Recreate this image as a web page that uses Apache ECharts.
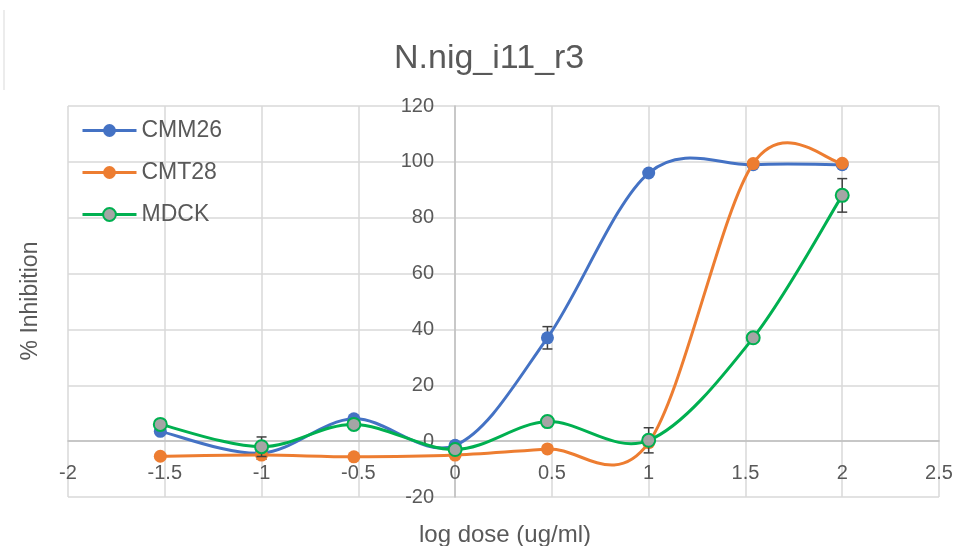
<!DOCTYPE html>
<html><head><meta charset="utf-8">
<script src="https://cdn.jsdelivr.net/npm/echarts@6/dist/echarts.min.js"></script>
<style>html,body{margin:0;padding:0;background:#fff}#c{width:956px;height:546px}</style>
</head><body><div id="c"></div>
<script>
const chartTitle = 'N.nig_i11_r3';
const xName = 'log dose (ug/ml)';
const yName = '% Inhibition';
const seriesNames = ['CMM26', 'CMT28', 'MDCK'];
const logDose = [-1.523, -1, -0.523, 0, 0.477, 1, 1.54, 2];
const cmm26 = [3.5, -4.3, 8, -1.5, 37, 96, 99, 99];
const cmm26Err = [0, 0, 0, 1.2, 4, 0, 0, 0];
const cmt28 = [-5.4, -5, -5.6, -5, -2.8, -0.5, 99.4, 99.5];
const cmt28Err = [0, 1.5, 0, 0, 0, 0, 0, 0];
const mdck = [6, -2, 6, -3, 7, 0.3, 37, 88];
const mdckErr = [0, 3.5, 0, 0, 0, 4.5, 0, 6];

const FONT = '"Liberation Sans", Arial, sans-serif';
const TXT = '#595959';
const colors = ['#4472C4', '#ED7D31', '#00B050'];
const fills = ['#4472C4', '#ED7D31', '#A5A5A5'];

function markerSeries(name, vals, color, fill, z) {
  return {
    type: 'line', name, z,
    data: logDose.map((x, i) => [x, vals[i]]),
    symbol: 'circle', symbolSize: 13,
    lineStyle: { color, width: 0, opacity: 0 },
    itemStyle: { color: fill, borderColor: color, borderWidth: fill === color ? 0 : 2 },
    emphasis: { disabled: true },
    animation: false
  };
}
// Excel-like smoothed curve (Catmull-Rom Bezier through the points, via the axis scales)
function curveSeries(name, vals, color, z) {
  return {
    type: 'custom', name: name + '_curve', z, silent: true, animation: false,
    data: logDose.map((x, i) => [x, vals[i]]),
    encode: { x: 0, y: 1 },
    renderItem(params, api) {
      if (params.dataIndex !== 0) return null;
      const p = logDose.map((x, i) => api.coord([x, vals[i]]));
      const n = p.length, children = [];
      for (let i = 0; i < n - 1; i++) {
        const p0 = p[Math.max(i - 1, 0)], p1 = p[i], p2 = p[i + 1], p3 = p[Math.min(i + 2, n - 1)];
        children.push({
          type: 'bezierCurve',
          shape: {
            x1: p1[0], y1: p1[1], x2: p2[0], y2: p2[1],
            cpx1: p1[0] + (p2[0] - p0[0]) / 6, cpy1: p1[1] + (p2[1] - p0[1]) / 6,
            cpx2: p2[0] - (p3[0] - p1[0]) / 6, cpy2: p2[1] - (p3[1] - p1[1]) / 6
          },
          style: { stroke: color, lineWidth: 3, fill: 'none', lineCap: 'round' }
        });
      }
      return { type: 'group', children };
    }
  };
}
function errSeries(name, vals, errs, z) {
  const data = [];
  logDose.forEach((x, i) => { if (errs[i] > 0) data.push([x, vals[i] - errs[i], vals[i] + errs[i]]); });
  return {
    type: 'custom', name: name + '_err', z, silent: true, animation: false,
    data, encode: { x: 0, y: [1, 2] },
    renderItem(params, api) {
      const x = api.value(0);
      const lo = api.coord([x, api.value(1)]);
      const hi = api.coord([x, api.value(2)]);
      const w = 5, st = { stroke: '#404040', lineWidth: 1.5 };
      return { type: 'group', children: [
        { type: 'line', shape: { x1: lo[0], y1: lo[1], x2: hi[0], y2: hi[1] }, style: st },
        { type: 'line', shape: { x1: lo[0] - w, y1: lo[1], x2: lo[0] + w, y2: lo[1] }, style: st },
        { type: 'line', shape: { x1: hi[0] - w, y1: hi[1], x2: hi[0] + w, y2: hi[1] }, style: st }
      ]};
    }
  };
}

const chart = echarts.init(document.getElementById('c'), null, { renderer: 'canvas' });
chart.setOption({
  backgroundColor: '#fff',
  animation: false,
  title: { text: chartTitle, left: 389, top: 37, textStyle: { fontFamily: FONT, fontSize: 34, fontWeight: 'normal', color: TXT } },
  grid: { left: 68, right: 17, top: 106, bottom: 49, containLabel: false },
  legend: {
    data: seriesNames.map((n, i) => ({ name: n, lineStyle: { color: colors[i], width: 3, opacity: 1 } })),
    orient: 'vertical', left: 76, top: 114, itemWidth: 54, itemHeight: 16, itemGap: 19,
    textStyle: { fontFamily: FONT, fontSize: 23, color: TXT }, selectedMode: false
  },
  xAxis: {
    type: 'value', min: -2, max: 2.5, interval: 0.5, offset: -55.9,
    axisLine: { show: true, onZero: false, lineStyle: { color: '#bfbfbf', width: 1.5 } },
    axisTick: { show: false },
    axisLabel: { fontFamily: FONT, fontSize: 20, color: TXT, margin: 22 },
    splitLine: { show: true, lineStyle: { color: '#d9d9d9', width: 1.5 } }
  },
  yAxis: {
    type: 'value', min: -20, max: 120, interval: 20, offset: -387.1,
    axisLine: { show: true, onZero: false, lineStyle: { color: '#bfbfbf', width: 1.5 } },
    axisTick: { show: false },
    axisLabel: { fontFamily: FONT, fontSize: 20, color: TXT, margin: 21 },
    splitLine: { show: true, lineStyle: { color: '#d9d9d9', width: 1.5 } }
  },
  graphic: [
    { type: 'text', x: 31, y: 301, rotation: Math.PI / 2, style: { text: yName, x: 0, y: 0, font: '23px ' + FONT, fill: TXT, textAlign: 'center', textVerticalAlign: 'middle' } },
    { type: 'line', shape: { x1: 4, y1: 10, x2: 4, y2: 90 }, style: { stroke: '#d9d9d9', lineWidth: 1 } },
    { type: 'text', x: 505, y: 535, style: { text: xName, x: 0, y: 0, font: '24px ' + FONT, fill: TXT, textAlign: 'center', textVerticalAlign: 'middle' } }
  ],
  series: [
    errSeries('CMM26', cmm26, cmm26Err, 2),
    curveSeries('CMM26', cmm26, colors[0], 2),
    markerSeries('CMM26', cmm26, colors[0], fills[0], 3),
    errSeries('CMT28', cmt28, cmt28Err, 4),
    curveSeries('CMT28', cmt28, colors[1], 4),
    markerSeries('CMT28', cmt28, colors[1], fills[1], 5),
    errSeries('MDCK', mdck, mdckErr, 6),
    curveSeries('MDCK', mdck, colors[2], 6),
    markerSeries('MDCK', mdck, colors[2], fills[2], 7)
  ]
});
</script></body></html>
